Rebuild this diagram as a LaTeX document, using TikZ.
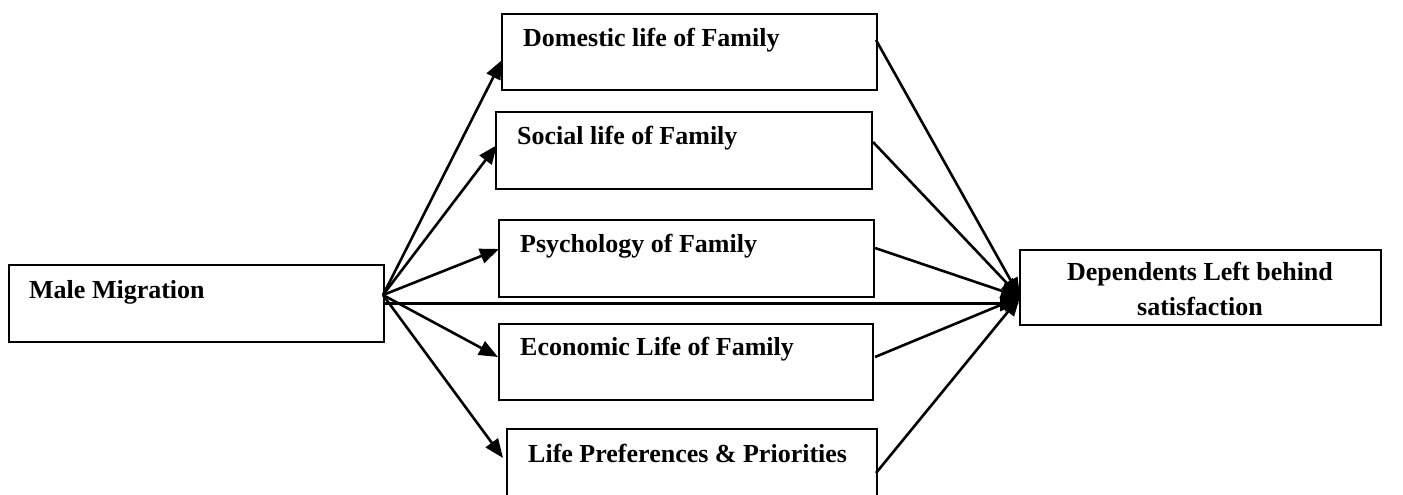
\documentclass[tikz,border=0pt]{standalone}
\usepackage{fontspec}
\setmainfont{Liberation Serif}
\usetikzlibrary{arrows.meta}
\tikzset{
  box/.style={draw, line width=2.2pt, inner sep=0pt, anchor=north west},
  lbl/.style={anchor=base west, inner sep=0pt, font=\fontsize{26}{30}\selectfont\bfseries},
  conn/.style={line width=2.6pt, -{Triangle[length=19pt,width=15pt]}},
}
\begin{document}
\begin{tikzpicture}[x=1pt,y=-1pt]
\useasboundingbox (0,0) rectangle (1403,495);
\clip (0,0) rectangle (1403,495);
% boxes
\node[box, minimum width=375pt, minimum height=77pt] (mm) at (8,264) {};
\node[box, minimum width=375pt, minimum height=76pt] (dom) at (501,13) {};
\node[box, minimum width=376pt, minimum height=77pt] (soc) at (495,111) {};
\node[box, minimum width=375pt, minimum height=77pt] (psy) at (498,219) {};
\node[box, minimum width=374pt, minimum height=76pt] (eco) at (498,323) {};
\node[box, minimum width=370pt, minimum height=80pt] (lif) at (506,428) {};
\node[box, minimum width=361pt, minimum height=75pt] (dep) at (1019,249) {};
% texts
\node[lbl] (tmm) at (29,298) {Male Migration};
\node[lbl] (tdom) at (523,47) {Domestic life of Family};
\node[lbl] (tsoc) at (517,144) {Social life of Family};
\node[lbl] (tpsy) at (520,252) {Psychology of Family};
\node[lbl] (teco) at (520,355) {Economic Life of Family};
\node[lbl] (tlif) at (528,462) {Life Preferences \& Priorities};
\node[inner sep=0pt, align=center, font=\fontsize{26}{35}\selectfont\bfseries, anchor=base] (tdep) at (1200,315) {Dependents Left behind\\satisfaction};
% coordinates
\coordinate (src) at (383,295);
\coordinate (tgt) at (1020,297);
\coordinate (idom) at (502,60);
\coordinate (isoc) at (497,145);
\coordinate (ipsy) at (499,249);
\coordinate (ieco) at (498,357);
\coordinate (ilif) at (503,458);
\coordinate (odom) at (876,40);
\coordinate (osoc) at (873,142);
\coordinate (opsy) at (875,248);
\coordinate (oeco) at (875,357);
\coordinate (olif) at (876,473);
% connectors
\draw[conn] (src) -- (idom);
\draw[conn] (src) -- (isoc);
\draw[conn] (src) -- (ipsy);
\draw[conn] (src) -- (ieco);
\draw[conn] (src) -- (ilif);
\draw[conn] (mm.east) -- (dep.west |- mm.east);
\draw[conn] (odom) -- (tgt);
\draw[conn] (osoc) -- (tgt);
\draw[conn] (opsy) -- (tgt);
\draw[conn] (oeco) -- (tgt);
\draw[conn] (olif) -- (tgt);
\end{tikzpicture}
\end{document}
